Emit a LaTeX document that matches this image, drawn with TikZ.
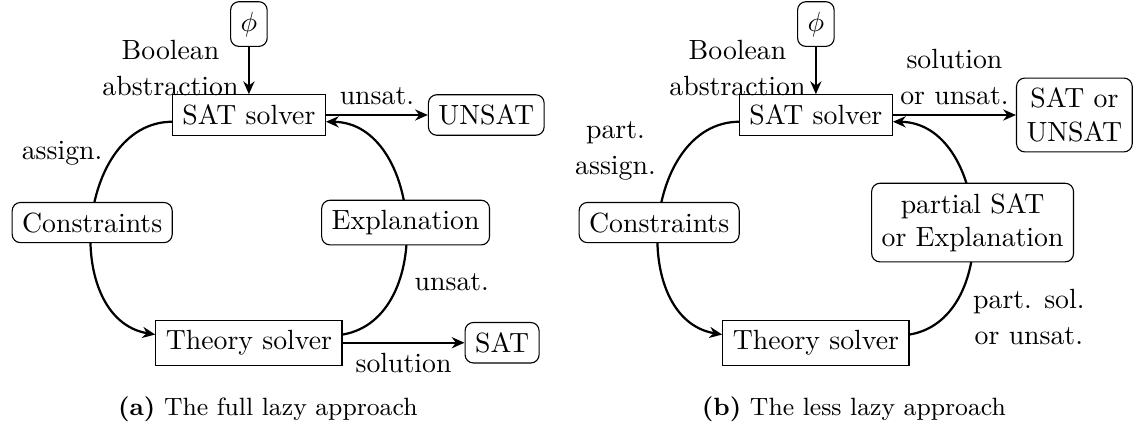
\documentclass[tikz,border=0pt]{standalone}
\usepackage{tikz}
\usetikzlibrary{arrows.meta, positioning}
\tikzset{
    solverbox/.style={
        rectangle, draw, thin, inner sep=3.6pt
    },
    databox/.style={
        rectangle, rounded corners=3pt, draw, thin, fill=white,
        align=center, inner sep=3.6pt
    },
    flow/.style={
        -{Stealth[length=4.6pt, width=4pt, inset=1.5pt]}, thick
    },
    edgelabel/.style={
        align=center, font=\linespread{1.08}\selectfont
    },
    subcap/.style={
        font=\small
    }
}

\begin{document}
\begin{tikzpicture}[node distance=17pt and 37pt]
    \useasboundingbox (-89.6pt,41.4pt) rectangle (319.7pt,-112.7pt);

    % (a) full lazy loop
    \node[solverbox] (satA) {SAT solver};
    \node[databox, above=of satA] (phiA) {$\phi$};
    \node[databox, right=36.7pt of satA] (unsatA) {UNSAT};
    \node[solverbox, below=66.2pt of satA] (theoryA) {Theory solver};
    \node[databox, right=43.9pt of theoryA] (satresA) {SAT};

    \draw[flow] (phiA) -- node[left, edgelabel, yshift=1pt] {Boolean\\abstraction} (satA);
    \draw[flow] (satA) -- node[above, edgelabel] {unsat.} (unsatA);
    \draw[flow] (theoryA) -- node[below, edgelabel] {solution} (satresA);
    \draw[flow] (satA) to[bend right=85, looseness=1.15]
        node[pos=0.25, left=1pt, edgelabel] {assign.}
        node[databox, midway] (constrA) {Constraints} (theoryA);
    \draw[flow] (theoryA) to[bend right=85, looseness=1.15]
        node[pos=0.3, right=2pt, edgelabel] {unsat.}
        node[databox, midway] (explA) {Explanation} (satA);

    \node[subcap, below=7.5pt of theoryA, xshift=6.8pt] (capA) {\textbf{(a)} The full lazy approach};

    % (b) less lazy loop
    \node[solverbox] (satB) at (204.1pt,0) {SAT solver};
    \node[databox, above=of satB] (phiB) {$\phi$};
    \node[databox, right=44.3pt of satB] (resB) {SAT or\\UNSAT};
    \node[solverbox, below=66.2pt of satB] (theoryB) {Theory solver};

    \draw[flow] (phiB) -- node[left, edgelabel, yshift=1pt] {Boolean\\abstraction} (satB);
    \draw[flow] (satB) -- node[above, edgelabel] {solution\\or unsat.} (resB);
    \draw[flow] (satB) to[bend right=85, looseness=1.15]
        node[pos=0.24, left=6.5pt, edgelabel] {part.\\assign.}
        node[databox, midway] (constrB) {Constraints} (theoryB);
    \draw[flow] (theoryB) to[bend right=85, looseness=1.15]
        node[pos=0.15, right=6.5pt, edgelabel] {part. sol.\\or unsat.}
        node[databox, midway] (partB) {partial SAT\\or Explanation} (satB);

    \node[subcap, below=7.5pt of theoryB, xshift=13.7pt] (capB) {\textbf{(b)} The less lazy approach};
\end{tikzpicture}
\end{document}
